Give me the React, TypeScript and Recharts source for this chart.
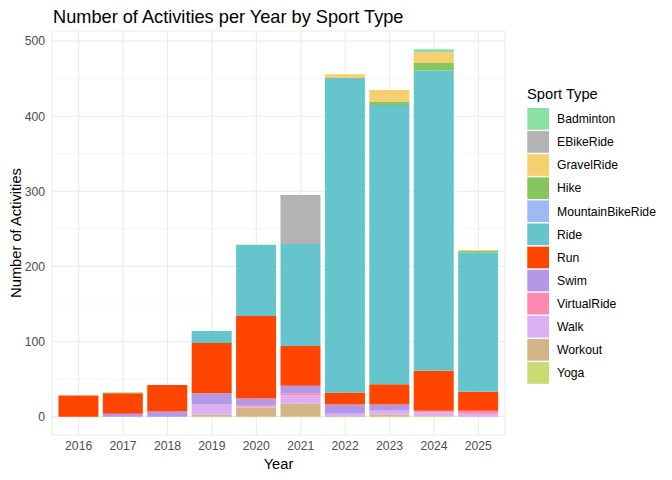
import { BarChart, Bar, XAxis, YAxis, CartesianGrid } from 'recharts';

const years = ['2016', '2017', '2018', '2019', '2020', '2021', '2022', '2023', '2024', '2025'];

// activity counts per sport type, one value per year
const badminton = [0, 0, 0, 0, 0, 0, 0, 0, 4, 0];
const eBikeRide = [0, 0, 0, 0, 0, 65, 0, 0, 0, 0];
const gravelRide = [0, 0, 0, 0, 0, 0, 5, 16, 14, 1];
const hike = [0, 1, 0, 0, 0, 0, 0, 4, 10, 2];
const mountainBikeRide = [0, 0, 0, 0, 0, 0, 0, 0, 0, 0];
const ride = [0, 0, 0, 16, 95, 136, 419, 372, 400, 186];
const run = [28, 27, 35, 67, 110, 53, 16, 27, 53, 25];
const swim = [0, 4, 7, 15, 9, 10, 12, 8, 0, 0];
const virtualRide = [0, 0, 0, 0, 2, 3, 0, 0, 2, 4];
const walk = [0, 0, 0, 13, 1, 11, 3, 5, 5, 4];
const workout = [0, 0, 0, 3, 12, 17, 1, 3, 0, 0];
const yoga = [0, 0, 0, 0, 0, 0, 0, 0, 1, 0];

const yTicks = [0, 100, 200, 300, 400, 500];
const yMinor = [50, 150, 250, 350, 450];

// legend order (top to bottom); stacking goes the other way
const sports = [
  { key: 'Badminton', values: badminton, color: '#8BE0A4' },
  { key: 'EBikeRide', values: eBikeRide, color: '#B3B3B3' },
  { key: 'GravelRide', values: gravelRide, color: '#F6CF71' },
  { key: 'Hike', values: hike, color: '#87C55F' },
  { key: 'MountainBikeRide', values: mountainBikeRide, color: '#9EB9F3' },
  { key: 'Ride', values: ride, color: '#66C5CC' },
  { key: 'Run', values: run, color: '#FF4500' },
  { key: 'Swim', values: swim, color: '#B497E7' },
  { key: 'VirtualRide', values: virtualRide, color: '#FE88B1' },
  { key: 'Walk', values: walk, color: '#DCB0F2' },
  { key: 'Workout', values: workout, color: '#D3B484' },
  { key: 'Yoga', values: yoga, color: '#C9DB74' },
];

const data = years.map((year, i) => {
  const row: Record<string, string | number> = { year };
  sports.forEach((s) => {
    row[s.key] = s.values[i];
  });
  return row;
});

const FONT = '"Liberation Sans", Arial, sans-serif';
const GRID = '#EBEBEB';

export default function App() {
  const stackOrder = [...sports].reverse();

  return (
    <div style={{ position: 'absolute', left: 0, top: 0, width: 672, height: 480, background: '#fff' }}>
      <BarChart
        width={672}
        height={480}
        data={data}
        margin={{ top: 31, right: 167, bottom: 15, left: 12 }}
      >
        <CartesianGrid
          stroke={GRID}
          strokeWidth={0.55}
          vertical={false}
          horizontalValues={yMinor}
        />
        <CartesianGrid stroke={GRID} strokeWidth={1.1} />
        <XAxis
          dataKey="year"
          interval={0}
          padding={{ left: 4.44, right: 4.44 }}
          axisLine={false}
          tickLine={false}
          tickSize={6}
          tickMargin={0}
          height={30}
          tick={{ fontSize: 12.2, fill: '#4D4D4D', fontFamily: FONT }}
        />
        <YAxis
          type="number"
          domain={[-24.45, 513.45]}
          ticks={yTicks}
          allowDataOverflow
          axisLine={false}
          tickLine={false}
          tickSize={5}
          tickMargin={2}
          width={40}
          tick={{ fontSize: 12.2, fill: '#4D4D4D', fontFamily: FONT }}
        />
        {stackOrder.map((s) => (
          <Bar
            key={s.key}
            dataKey={s.key}
            stackId="a"
            fill={s.color}
            barSize={40}
            isAnimationActive={false}
          />
        ))}
      </BarChart>

      <svg
        width={672}
        height={480}
        style={{ position: 'absolute', left: 0, top: 0, pointerEvents: 'none', fontFamily: FONT }}
      >
        <text x={53} y={23} fontSize={18.2} fill="#000">
          Number of Activities per Year by Sport Type
        </text>
        <text
          x={0}
          y={0}
          fontSize={14.7}
          fill="#000"
          textAnchor="middle"
          transform="translate(21 233) rotate(-90)"
        >
          Number of Activities
        </text>
        <text x={278.5} y={469} fontSize={14.7} fill="#000" textAnchor="middle">
          Year
        </text>

        <text x={527} y={99} fontSize={14.7} fill="#000">
          Sport Type
        </text>
        {sports.map((s, i) => {
          const top = 108 + i * 23.1;
          return (
            <g key={s.key}>
              <rect x={527.3} y={top} width={21.7} height={21.7} fill={s.color} />
              <text x={557} y={top + 10.85 + 4.3} fontSize={12.2} fill="#000">
                {s.key}
              </text>
            </g>
          );
        })}
      </svg>
    </div>
  );
}
